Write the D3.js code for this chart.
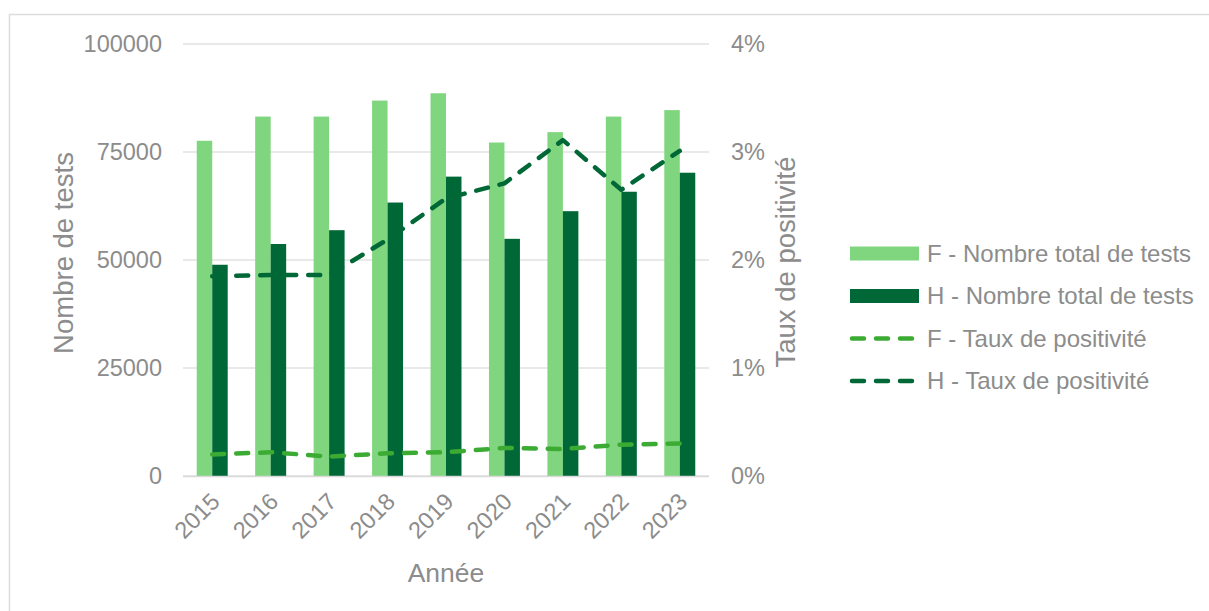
<!DOCTYPE html>
<html>
<head>
<meta charset="utf-8">
<script src="https://cdn.jsdelivr.net/npm/d3@7"></script>
<style>
  html, body { margin: 0; padding: 0; background: #ffffff; }
  svg { display: block; font-family: "Liberation Sans", Arial, sans-serif; }
</style>
</head>
<body>
<svg id="chart" width="1209" height="611"></svg>
<script>
// Tests de dépistage par année et par sexe
const years = ["2015", "2016", "2017", "2018", "2019", "2020", "2021", "2022", "2023"];
const testsF = [77600, 83200, 83200, 86900, 88600, 77200, 79600, 83200, 84700];
const testsH = [48900, 53700, 56900, 63300, 69300, 54900, 61300, 65800, 70200];
const tauxF = [0.0020, 0.0022, 0.0018, 0.0021, 0.0022, 0.0026, 0.0025, 0.0029, 0.0030];
const tauxH = [0.0185, 0.0186, 0.0186, 0.0219, 0.0257, 0.0271, 0.0311, 0.0265, 0.0301];
const leftTicks = [0, 25000, 50000, 75000, 100000];
const rightTicks = [0, 0.01, 0.02, 0.03, 0.04];
const legendLabels = [
  "F - Nombre total de tests",
  "H - Nombre total de tests",
  "F - Taux de positivité",
  "H - Taux de positivité"
];

const colF = "#80d67e";
const colH = "#006837";
const colLineF = "#3cab34";
const colLineH = "#006837";
const textCol = "#8c8c8c";
const gridCol = "#e2e2e2";

const svg = d3.select("#chart");

// outer frame
svg.append("rect")
  .attr("x", 9.5).attr("y", 14.5)
  .attr("width", 1209).attr("height", 611)
  .attr("fill", "none").attr("stroke", "#dcdcdc").attr("stroke-width", 1.5);

const plot = { left: 183, right: 709, top: 44, bottom: 476 };

const x = d3.scaleBand().domain(years)
  .range([plot.left, plot.right])
  .paddingInner(0.47).paddingOuter(0.235);
const xSub = d3.scaleBand().domain(["F", "H"]).range([0, x.bandwidth()]);
const cx = d => x(d) + x.bandwidth() / 2;

const y = d3.scaleLinear().domain([0, 100000]).range([plot.bottom, plot.top]);
const y2 = d3.scaleLinear().domain([0, 0.04]).range([plot.bottom, plot.top]);

// gridlines
svg.append("g")
  .selectAll("line").data(leftTicks).join("line")
  .attr("x1", plot.left).attr("x2", plot.right)
  .attr("y1", d => y(d)).attr("y2", d => y(d))
  .attr("stroke", gridCol).attr("stroke-width", 1.5);

// left axis labels
const leftAxis = d3.axisLeft(y).tickValues(leftTicks).tickSize(0).tickPadding(0)
  .tickFormat(d3.format("d"));
svg.append("g")
  .attr("transform", `translate(${plot.left - 21},0)`)
  .call(leftAxis)
  .call(g => g.select(".domain").remove())
  .call(g => g.selectAll("text")
    .attr("fill", textCol).attr("font-size", 23.5)
    .attr("font-family", "Liberation Sans, Arial, sans-serif"));

// right axis labels
const rightAxis = d3.axisRight(y2).tickValues(rightTicks).tickSize(0).tickPadding(0)
  .tickFormat(d3.format(".0%"));
svg.append("g")
  .attr("transform", `translate(${plot.right + 22},0)`)
  .call(rightAxis)
  .call(g => g.select(".domain").remove())
  .call(g => g.selectAll("text")
    .attr("fill", textCol).attr("font-size", 23.5)
    .attr("font-family", "Liberation Sans, Arial, sans-serif"));

// bars
const bars = svg.append("g");
bars.selectAll("rect.f").data(years).join("rect")
  .attr("class", "f")
  .attr("x", d => x(d) + xSub("F"))
  .attr("width", xSub.bandwidth())
  .attr("y", (d, i) => y(testsF[i]))
  .attr("height", (d, i) => y(0) - y(testsF[i]))
  .attr("fill", colF);
bars.selectAll("rect.h").data(years).join("rect")
  .attr("class", "h")
  .attr("x", d => x(d) + xSub("H"))
  .attr("width", xSub.bandwidth())
  .attr("y", (d, i) => y(testsH[i]))
  .attr("height", (d, i) => y(0) - y(testsH[i]))
  .attr("fill", colH);

// x axis baseline
svg.append("line")
  .attr("x1", plot.left).attr("x2", plot.right)
  .attr("y1", plot.bottom + 0.5).attr("y2", plot.bottom + 0.5)
  .attr("stroke", "#d9d9d9").attr("stroke-width", 1.5);

// x axis labels (rotated)
const xAxis = d3.axisBottom(x).tickSize(0).tickPadding(0);
svg.append("g")
  .attr("transform", `translate(0,${plot.bottom})`)
  .call(xAxis)
  .call(g => g.select(".domain").remove())
  .call(g => g.selectAll("text")
    .attr("fill", textCol).attr("font-size", 23.5)
    .attr("font-family", "Liberation Sans, Arial, sans-serif")
    .attr("text-anchor", "end")
    .attr("dy", null)
    .attr("y", 0)
    .attr("transform", "translate(9,27) rotate(-45)"));

// lines
const lineGen = arr => d3.line()
  .x((d, i) => cx(years[i]))
  .y(d => y2(d))(arr);

svg.append("path")
  .attr("d", lineGen(tauxF))
  .attr("fill", "none").attr("stroke", colLineF)
  .attr("stroke-width", 4.5).attr("stroke-linecap", "round")
  .attr("stroke-linejoin", "round")
  .attr("stroke-dasharray", "12 12");

svg.append("path")
  .attr("d", lineGen(tauxH))
  .attr("fill", "none").attr("stroke", colLineH)
  .attr("stroke-width", 4.5).attr("stroke-linecap", "round")
  .attr("stroke-linejoin", "round")
  .attr("stroke-dasharray", "12 12");

// axis titles
svg.append("text")
  .attr("transform", "translate(73,253) rotate(-90)")
  .attr("text-anchor", "middle")
  .attr("fill", textCol).attr("font-size", 27.5)
  .text("Nombre de tests");

svg.append("text")
  .attr("transform", "translate(795,262) rotate(-90)")
  .attr("text-anchor", "middle")
  .attr("fill", textCol).attr("font-size", 27.5)
  .text("Taux de positivité");

svg.append("text")
  .attr("x", (plot.left + plot.right) / 2).attr("y", 582)
  .attr("text-anchor", "middle")
  .attr("fill", textCol).attr("font-size", 26.5)
  .text("Année");

// legend
const legY = [253.5, 296, 338.5, 381];
const leg = svg.append("g");
leg.append("rect").attr("x", 850).attr("y", legY[0] - 7).attr("width", 69).attr("height", 14).attr("fill", colF);
leg.append("rect").attr("x", 850).attr("y", legY[1] - 7).attr("width", 69).attr("height", 14).attr("fill", colH);
leg.append("line").attr("x1", 852).attr("x2", 914).attr("y1", legY[2]).attr("y2", legY[2])
  .attr("stroke", colLineF).attr("stroke-width", 4.5).attr("stroke-linecap", "round")
  .attr("stroke-dasharray", "12 12");
leg.append("line").attr("x1", 852).attr("x2", 914).attr("y1", legY[3]).attr("y2", legY[3])
  .attr("stroke", colLineH).attr("stroke-width", 4.5).attr("stroke-linecap", "round")
  .attr("stroke-dasharray", "12 12");
leg.selectAll("text").data(legendLabels).join("text")
  .attr("x", 927).attr("y", (d, i) => legY[i])
  .attr("dy", "0.35em")
  .attr("fill", textCol).attr("font-size", 24)
  .text(d => d);
</script>
</body>
</html>
